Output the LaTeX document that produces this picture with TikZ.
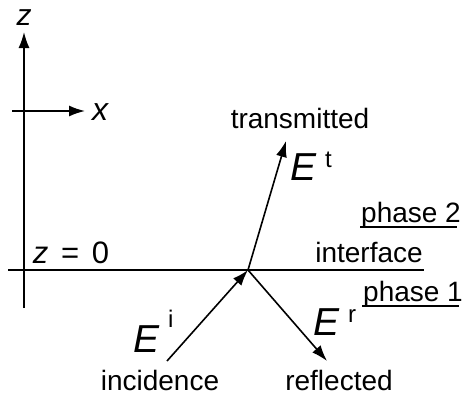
\documentclass[tikz,border=0pt]{standalone}
\usepackage{fontspec}
\setmainfont{Liberation Sans}
\usetikzlibrary{arrows.meta}

\newcommand{\fieldE}[2]{\textit{E}\hspace{8pt}\raisebox{#2}{\fontsize{24}{24}\selectfont #1}}

\begin{document}
\begin{tikzpicture}[x=1pt, y=-1pt, line width=1.6pt,
  ray/.style={-{Latex[length=16pt,width=11pt]}},
  word/.style={inner sep=0pt, anchor=base, font=\fontsize{28}{30}\selectfont},
  wave/.style={inner sep=0pt, anchor=base west, font=\fontsize{39}{40}\selectfont}]
\useasboundingbox (0,0) rectangle (469,397);

% axes
\coordinate (zlo) at (24,308);
\coordinate (ztip) at (24,32);
\coordinate (xlo) at (12,111);
\coordinate (xtip) at (85,111);
\draw[ray] (zlo) -- (ztip);
\draw[ray] (xlo) -- (xtip);
\node[word, font=\fontsize{30}{30}\selectfont\itshape] (zl) at (24,25) {z};
\node[word, font=\fontsize{32}{32}\selectfont\itshape] (xl) at (100,120) {x};

% interface
\coordinate (left) at (8,270);
\coordinate (right) at (424,270);
\coordinate (O) at (248,270);
\draw (left) -- (right);
\node[word, font=\fontsize{31}{32}\selectfont] (z0) at (71,263) {\textit{z}\hspace{4pt} = \hspace{4pt}0};
\node[word] (intf) at (369,262) {interface};
\node[word] (ph2) at (411,222) {phase 2};
\node[word] (ph1) at (413,301) {phase 1};
\draw (ph2.base west) ++(0,5) -- ++(97,0);
\draw (ph1.base west) ++(0,5) -- ++(97,0);

% rays
\coordinate (inc) at (167,361);
\coordinate (tra) at (286,141);
\coordinate (ref) at (327,361);
\draw[ray] (inc) -- (O);
\draw[ray] (O) -- (tra);
\draw[ray] (O) -- (ref);

\node[wave] (Et) at (290,180) {\fieldE{t}{13pt}};
\node[wave] (Ei) at (133,352) {\fieldE{i}{25pt}};
\node[wave] (Er) at (313,335) {\fieldE{r}{13pt}};

\node[word] (trans) at (300,128) {transmitted};
\node[word] (incid) at (160,390) {incidence};
\node[word] (refl) at (339,390) {reflected};
\end{tikzpicture}
\end{document}
